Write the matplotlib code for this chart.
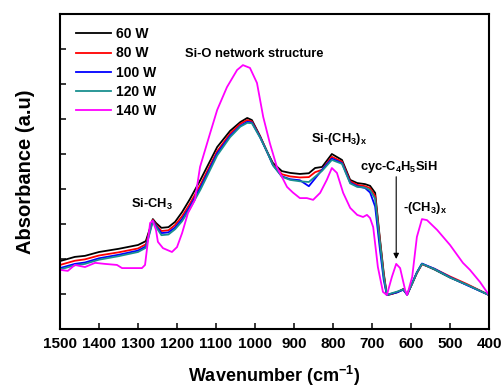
import matplotlib
matplotlib.use("Agg")
import matplotlib.pyplot as plt

plt.rcParams['font.family'] = ['Liberation Sans', 'DejaVu Sans']
plt.rcParams['font.weight'] = 'bold'
plt.rcParams['mathtext.default'] = 'regular'

# wavenumber grid shared by the four similar spectra (cm-1)
wn = [1500, 1462, 1436, 1400, 1350, 1300, 1280, 1269, 1262, 1254, 1240, 1222,
      1205, 1187, 1167, 1140, 1097, 1064, 1038, 1020, 1008, 987, 969, 954, 931,
      910, 885, 862, 846, 828, 803, 777, 756, 738, 718, 705, 692, 680, 670, 662,
      650, 635, 620, 610, 597, 585, 572, 540, 500, 456, 400]

w60 = [1.94, 2.06, 2.09, 2.20, 2.29, 2.40, 2.51, 2.89, 3.14, 3.03, 2.89, 2.91,
       3.06, 3.34, 3.71, 4.26, 5.20, 5.66, 5.91, 6.03, 5.97, 5.51, 5.06, 4.74, 4.51,
       4.46, 4.43, 4.45, 4.60, 4.63, 5.00, 4.83, 4.26, 4.17, 4.14, 4.09, 3.89, 2.60, 1.60, 0.97,
       1.00, 1.05, 1.14, 0.98, 1.30, 1.60, 1.86, 1.70, 1.47, 1.26, 0.97]

w80 = [1.83, 1.95, 1.99, 2.10, 2.19, 2.30, 2.42, 2.85, 3.12, 2.98, 2.80, 2.82,
       2.97, 3.22, 3.58, 4.12, 5.08, 5.58, 5.86, 5.97, 5.93, 5.50, 5.07, 4.70, 4.42,
       4.36, 4.33, 4.34, 4.48, 4.55, 4.92, 4.78, 4.22, 4.12, 4.08, 4.02, 3.80, 2.55, 1.55, 0.97,
       1.00, 1.06, 1.13, 0.99, 1.30, 1.60, 1.85, 1.72, 1.50, 1.28, 0.97]

w100 = [1.74, 1.86, 1.90, 2.02, 2.12, 2.24, 2.36, 2.82, 3.10, 2.95, 2.74, 2.76,
        2.90, 3.14, 3.50, 4.04, 5.02, 5.52, 5.80, 5.92, 5.90, 5.48, 5.06, 4.68, 4.36,
        4.28, 4.25, 4.08, 4.30, 4.55, 4.87, 4.74, 4.18, 4.08, 4.03, 3.90, 3.50, 2.30, 1.40, 0.97,
        1.01, 1.05, 1.12, 0.98, 1.31, 1.62, 1.87, 1.72, 1.48, 1.25, 0.97]

w120 = [1.70, 1.82, 1.86, 1.98, 2.08, 2.20, 2.32, 2.78, 3.08, 2.92, 2.68, 2.70,
        2.85, 3.08, 3.44, 3.98, 4.96, 5.48, 5.78, 5.89, 5.88, 5.47, 5.06, 4.68, 4.35,
        4.26, 4.22, 4.20, 4.35, 4.52, 4.83, 4.72, 4.16, 4.06, 4.04, 3.97, 3.72, 2.50, 1.50, 0.97,
        1.02, 1.07, 1.13, 0.99, 1.30, 1.61, 1.86, 1.71, 1.47, 1.26, 0.97]

# 140 W has its own sampling
wn140 = [1500, 1480, 1462, 1436, 1410, 1385, 1354, 1341, 1290, 1282, 1269, 1262,
         1254, 1249, 1236, 1213, 1200, 1187, 1172, 1154, 1141, 1115, 1097, 1072,
         1046, 1031, 1013, 995, 979, 962, 944, 918, 903, 885, 867, 851, 833, 816,
         803, 790, 774, 756, 738, 723, 713, 705, 697, 685, 672, 662, 649, 638, 628,
         615, 610, 597, 585, 572, 559, 533, 500, 467, 449, 423, 400]
w140 = [1.69, 1.66, 1.83, 1.77, 1.89, 1.86, 1.83, 1.74, 1.74, 1.83, 3.03, 3.09,
        2.83, 2.49, 2.31, 2.20, 2.34, 2.74, 3.31, 3.69, 4.63, 5.60, 6.26, 6.91,
        7.40, 7.54, 7.46, 7.03, 6.06, 5.31, 4.63, 4.06, 3.90, 3.74, 3.74, 3.69, 3.89, 4.26,
        4.60, 4.46, 3.89, 3.46, 3.26, 3.20, 3.26, 3.17, 2.91, 1.77, 1.06, 0.97, 1.49, 1.86, 1.74,
        1.11, 0.97, 1.49, 2.63, 3.14, 3.11, 2.83, 2.40, 1.89, 1.69, 1.34, 0.97]

fig = plt.figure(figsize=(5.01, 3.87), dpi=100)
ax = fig.add_axes([0.1198, 0.1499, 0.8563, 0.8139])

ax.plot(wn, w60, color='black', lw=1.3, label='60 W')
ax.plot(wn, w80, color='#ff0000', lw=1.3, label='80 W')
ax.plot(wn, w100, color='#0000ff', lw=1.3, label='100 W')
ax.plot(wn, w120, color='#1a9090', lw=1.3, label='120 W')
ax.plot(wn140, w140, color='#ff00ff', lw=1.3, label='140 W')

ax.set_xlim(1500, 400)
ax.set_ylim(0, 9)
ax.set_xticks([1500, 1400, 1300, 1200, 1100, 1000, 900, 800, 700, 600, 500, 400])
ax.set_yticks([1, 2, 3, 4, 5, 6, 7, 8])
ax.set_yticklabels([])
ax.tick_params(direction='in', length=4.5, width=1.1, labelsize=11, pad=6)
for s in ax.spines.values():
    s.set_linewidth(1.5)

ax.set_xlabel('Wavenumber (cm$^{-1}$)', fontsize=13, fontweight='bold', labelpad=9)
ax.set_ylabel('Absorbance (a.u)', fontsize=14.5, fontweight='bold', labelpad=12)

ax.legend(loc='upper left', bbox_to_anchor=(0.037, 0.958), frameon=False,
          fontsize=10, handlelength=2.5, handletextpad=0.4, labelspacing=0.37,
          borderpad=0, borderaxespad=0)

ax.text(1003, 7.86, 'Si-O network structure', fontsize=9.3, ha='center', va='center')
ax.text(1264, 3.55, 'Si-CH$_3$', fontsize=9.3, ha='center', va='center')
ax.text(785, 5.42, 'Si-(CH$_3$)$_x$', fontsize=9.3, ha='center', va='center')
ax.text(632, 4.62, 'cyc-C$_4$H$_5$SiH', fontsize=9.3, ha='center', va='center')
ax.text(565, 3.45, '-(CH$_3$)$_x$', fontsize=9.3, ha='center', va='center')
ax.annotate('', xy=(638, 2.0), xytext=(638, 4.35),
            arrowprops=dict(arrowstyle='-|>', color='black', lw=0.8,
                            mutation_scale=8, shrinkA=0, shrinkB=0))

fig.savefig('out.png', dpi=100)
